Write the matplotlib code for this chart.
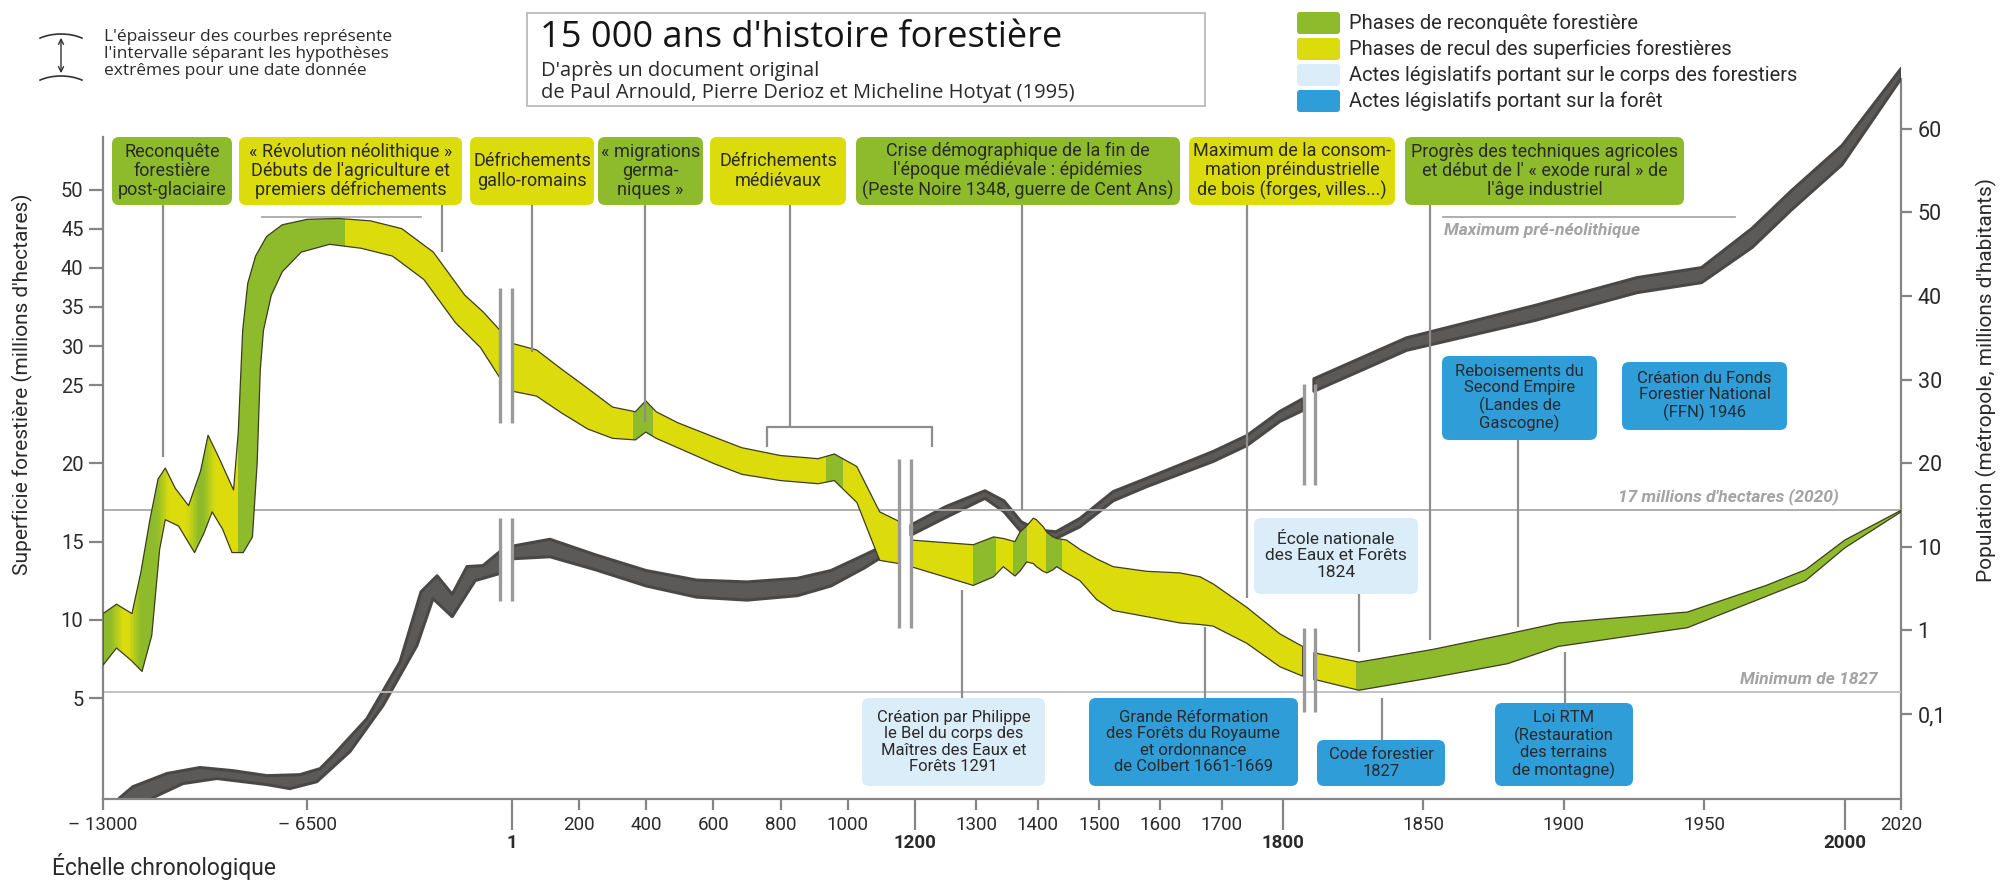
import numpy as np
import matplotlib
matplotlib.use("Agg")
import matplotlib.pyplot as plt
from matplotlib.colors import to_rgb
from matplotlib.patches import FancyBboxPatch, Polygon, Arc, FancyArrowPatch
from matplotlib.lines import Line2D
from matplotlib.ticker import NullLocator

plt.rcParams["font.family"] = ["Roboto", "DejaVu Sans"]

W, H = 2005, 881

# ---------------------------------------------------------------- data
# forest area (millions ha), upper / lower hypothesis, split at the axis breaks
forest_a_up_x = [-13000, -12570, -12080, -11800, -11500, -11250, -11020, -10700, -10280, -9900,
                 -9660, -9300, -8850, -8700, -8560, -8400, -8150, -7800, -7300, -6500, -5500,
                 -4500, -3500, -2500, -1500, -900, -380]
forest_a_up = [10.4, 11.0, 10.4, 13.0, 16.5, 19.0, 19.7, 18.4, 17.3, 19.5, 21.8, 20.3, 18.3,
               22.0, 32.0, 38.0, 41.5, 44.0, 45.5, 46.2, 46.3, 46.0, 45.0, 42.0, 36.5, 34.3, 32.0]
forest_a_lo_x = [-13000, -12570, -12100, -11760, -11450, -11200, -11020, -10600, -10090, -9800,
                 -9530, -9200, -8900, -8540, -8250, -8100, -8000, -7900, -7650, -7300, -6700,
                 -5800, -4800, -3800, -2800, -1800, -1000, -380]
forest_a_lo = [7.1, 8.2, 7.4, 6.7, 9.0, 14.5, 16.4, 16.0, 14.3, 15.5, 16.9, 15.8, 14.3, 14.3,
               15.3, 20.0, 27.0, 32.0, 36.5, 39.5, 42.0, 43.0, 42.5, 41.5, 38.5, 33.0, 29.8, 25.9]

forest_b_x = [5, 74, 150, 226, 300, 368, 399, 430, 494, 600, 685, 800, 912, 960, 1027, 1095, 1152]
forest_b_up = [30.3, 29.5, 27.0, 24.8, 23.6, 23.3, 24.0, 23.3, 22.6, 21.7, 21.0, 20.5, 20.3,
               20.6, 19.8, 16.9, 16.3]
forest_b_lo = [24.6, 24.3, 23.2, 22.2, 21.6, 21.5, 22.0, 21.6, 21.0, 20.0, 19.3, 18.9, 18.7,
               18.9, 17.5, 13.8, 13.6]

forest_c_x = [1188, 1295, 1328, 1344, 1363, 1371, 1382, 1393, 1398, 1409, 1415, 1425, 1431,
              1447, 1469, 1496, 1523, 1578, 1632, 1665, 1686, 1741, 1795, 1807]
forest_c_up = [15.1, 14.8, 15.3, 15.2, 15.0, 15.6, 16.0, 16.5, 16.4, 15.95, 15.6, 15.3, 15.2,
               15.1, 14.5, 13.9, 13.4, 13.1, 13.0, 12.75, 12.3, 10.8, 9.1, 8.3]
forest_c_lo = [13.4, 12.2, 12.75, 13.4, 12.8, 13.1, 13.7, 13.6, 13.4, 13.1, 13.0, 13.2, 13.4,
               13.0, 12.5, 11.3, 10.6, 10.2, 9.8, 9.7, 9.6, 8.5, 7.0, 6.4]

forest_d_x = [1811, 1827, 1853, 1880, 1898, 1917, 1944, 1972, 1986, 2000, 2020]
forest_d_up = [7.9, 7.3, 8.1, 9.1, 9.8, 10.1, 10.5, 12.2, 13.2, 15.1, 17.0]
forest_d_lo = [6.2, 5.5, 6.3, 7.2, 8.3, 8.8, 9.5, 11.5, 12.5, 14.6, 16.9]

# phases of forest recovery (green), the rest is retreat (yellow)
green_phases = [(-13000, -12555), (-12000, -11100), (-10150, -9620), (-8700, -5300),
                (360, 420), (935, 985), (1295, 1332), (1360, 1382), (1413, 1440), (1826, 2020)]

# population (millions), upper / lower hypothesis
pop_a_up_x = [-12700, -12460, -12050, -10970, -9920, -8870, -7790, -6740, -6100, -5690, -4610,
              -3560, -2890, -2380, -1900, -1430, -920, -380]
pop_a_up = [0.008, 0.010, 0.0135, 0.0194, 0.0229, 0.0210, 0.0183, 0.0188, 0.0222, 0.0318, 0.088,
            0.42, 2.9, 4.5, 2.7, 5.8, 5.96, 8.8]
pop_a_lo_x = [-11600, -11410, -10460, -9380, -7790, -7060, -6200, -5150, -4100, -3020, -2510,
              -1900, -1170, -380]
pop_a_lo = [0.008, 0.010, 0.0147, 0.0169, 0.0143, 0.0128, 0.0155, 0.0355, 0.126, 0.66, 2.4,
            1.46, 3.94, 4.8]

pop_b_x = [5, 114, 250, 400, 550, 700, 850, 950, 1050, 1100, 1152]
pop_b_up = [10.1, 10.9, 8.0, 5.2, 4.0, 3.8, 4.2, 5.2, 8.0, 10.0, 12.0]
pop_b_lo = [7.2, 7.6, 5.3, 3.4, 2.5, 2.3, 2.6, 3.4, 5.6, 7.5, 10.8]

pop_c_x = [1188, 1250, 1314, 1345, 1373, 1400, 1430, 1469, 1523, 1578, 1686, 1741, 1795, 1807]
pop_c_up = [12.6, 14.8, 16.7, 15.5, 13.0, 12.0, 11.8, 13.4, 16.6, 18.2, 21.4, 23.3, 26.2, 27.7]
pop_c_lo = [11.4, 13.5, 15.8, 14.2, 11.8, 11.0, 11.0, 12.4, 15.5, 17.2, 20.2, 22.1, 25.0, 26.3]

pop_d_x = [1811, 1844, 1890, 1926, 1949, 1967, 1981, 1999, 2020]
pop_d_up = [30.1, 35.0, 38.9, 42.2, 43.4, 48.1, 52.6, 58.0, 67.2]
pop_d_lo = [28.6, 33.5, 37.1, 40.4, 41.6, 45.8, 50.3, 55.7, 66.0]

x_ticks_minor = [-13000, -6500, 200, 400, 600, 800, 1000, 1300, 1400, 1500, 1600, 1700,
                 1850, 1900, 1950, 2020]
x_ticks_major = [1, 1200, 1800, 2000]
forest_ticks = [5, 10, 15, 20, 25, 30, 35, 40, 45, 50]
pop_ticks = [0.1, 1, 10, 20, 30, 40, 50, 60]
pop_tick_labels = ["0,1", "1", "10", "20", "30", "40", "50", "60"]

forest_2020 = 17
forest_min_1827 = 5.4
forest_max_preneo = 46.5

GREEN = "#8dbb2b"
YELLOW = "#dcdc0c"
LIGHT_BLUE = "#dcedfa"
BLUE = "#2f9dd8"
GREY_BAND = "#5c5959"
LINE_GREY = "#8e8e8e"
TXT = "#2a2a2a"


# ---------------------------------------------------------------- scales
# chronological axis: each period has its own stretch
_xk = np.array([-40000, -13000, 1, 1200, 1800, 2020, 5000], float)
_xp = np.array([103 - 27000 * 409 / 13001, 103, 512, 915, 1283, 1901, 1901 + 2980 * 618 / 220])


def x_fwd(v):
    return np.interp(np.asarray(v, float), _xk, _xp)


def x_inv(u):
    return np.interp(np.asarray(u, float), _xp, _xk)


# forest axis: 5-25 stretched twice as much as 25-50
def f_fwd(v):
    v = np.asarray(v, float)
    return np.where(v <= 25, v, 25 + (v - 25) / 2)


def f_inv(u):
    u = np.asarray(u, float)
    return np.where(u <= 25, u, 25 + (u - 25) * 2)


# population axis: log up to 10, then linear
def p_fwd(p):
    p = np.asarray(p, float)
    with np.errstate(all="ignore"):
        lg = np.log10(np.maximum(p, 1e-9)) + 2
    return np.where(p <= 10, lg, 3 + (p - 10) / 10)


def p_inv(g):
    g = np.asarray(g, float)
    with np.errstate(all="ignore"):
        ex = 10 ** (np.minimum(g, 3) - 2)
    return np.where(g <= 3, ex, 10 + (g - 3) * 10)


def fx(x):
    return x / W


def fy(y):
    return 1 - y / H


def mix(c1, c2, t):
    a, b = np.array(to_rgb(c1)), np.array(to_rgb(c2))
    return tuple(a + (b - a) * t)


# ---------------------------------------------------------------- figure
fig = plt.figure(figsize=(W / 100, H / 100), dpi=100)
fig.patch.set_facecolor("white")
ax = fig.add_axes([fx(103), fy(799), (1901 - 103) / W, (799 - 55) / H])
ax2 = ax.twinx()

ax.set_xscale("function", functions=(x_fwd, x_inv))
ax.set_xlim(-13000, 2020)
ax.set_yscale("function", functions=(f_fwd, f_inv))
ax.set_ylim(-1.45, 67.2)
ax2.set_yscale("function", functions=(p_fwd, p_inv))
ax2.set_ylim(10 ** (-2.017), 68.83)

ax.set_zorder(ax2.get_zorder() + 1)
ax.patch.set_visible(False)

for a in (ax, ax2):
    for s in a.spines.values():
        s.set_visible(False)
ax.spines["left"].set_visible(True)
ax.spines["bottom"].set_visible(True)
ax2.spines["right"].set_visible(True)
for s in (ax.spines["left"], ax.spines["bottom"], ax2.spines["right"]):
    s.set_color("#858585")
    s.set_linewidth(1.6)
ax.spines["left"].set_bounds(-1.45, 56.7)
ax2.spines["right"].set_bounds(10 ** (-2.017), 66)

# ticks
ax.set_xticks(x_ticks_major, labels=[str(v) for v in x_ticks_major], fontweight="bold")
ax.set_xticks(x_ticks_minor, labels=[("– %d" % -v) if v < 0 else str(v) for v in x_ticks_minor],
              minor=True)
ax.tick_params(axis="x", which="major", length=22, width=1.6, color="#858585", pad=3,
               labelsize=13.5, labelcolor=TXT)
ax.tick_params(axis="x", which="minor", length=8, width=1.6, color="#858585", pad=4,
               labelsize=13.5, labelcolor=TXT)
ax.set_yticks(forest_ticks, labels=[str(v) for v in forest_ticks])
ax.tick_params(axis="y", length=10, width=1.6, color="#858585", pad=4, labelsize=14.5,
               labelcolor=TXT)
ax2.set_yticks(pop_ticks, labels=pop_tick_labels)
ax2.yaxis.set_minor_locator(NullLocator())
ax.yaxis.set_minor_locator(NullLocator())
ax2.tick_params(axis="y", length=8, width=1.6, color="#858585", pad=4, labelsize=15.5,
                labelcolor=TXT)

# reference lines
ax.axhline(forest_2020, color="#a9a9a9", lw=1.3, zorder=1)
ax.axhline(forest_min_1827, color="#bdbdbd", lw=1.3, zorder=1)
ax.plot([-7940, -2890], [forest_max_preneo] * 2, color="#a9a9a9", lw=1.3, zorder=1)
ax.plot([1857, 1961], [forest_max_preneo] * 2, color="#a9a9a9", lw=1.3, zorder=1)


# ---------------------------------------------------------------- bands
def band(axis, xs_up, up, xs_lo, lo, **kw):
    verts = list(zip(xs_up, up)) + list(zip(xs_lo[::-1], lo[::-1]))
    poly = Polygon(verts, closed=True, joinstyle="round", **kw)
    axis.add_patch(poly)
    return poly


pop_segments = [(pop_a_up_x, pop_a_up, pop_a_lo_x, pop_a_lo),
                (pop_b_x, pop_b_up, pop_b_x, pop_b_lo),
                (pop_c_x, pop_c_up, pop_c_x, pop_c_lo),
                (pop_d_x, pop_d_up, pop_d_x, pop_d_lo)]
for xu, u, xl, l in pop_segments:
    band(ax2, xu, u, xl, l, fc=GREY_BAND, ec="#4a4747", lw=2.2, zorder=3)

# soft colour transitions between the prehistoric phases
soft_edges = []
for g0, g1 in green_phases:
    if g1 < -6000:
        if g0 > -13000:
            soft_edges.append((g0, YELLOW, GREEN))
        soft_edges.append((g1, GREEN, YELLOW))

forest_segments = [(forest_a_up_x, forest_a_up, forest_a_lo_x, forest_a_lo),
                   (forest_b_x, forest_b_up, forest_b_x, forest_b_lo),
                   (forest_c_x, forest_c_up, forest_c_x, forest_c_lo),
                   (forest_d_x, forest_d_up, forest_d_x, forest_d_lo)]
for xu, u, xl, l in forest_segments:
    poly = band(ax, xu, u, xl, l, fill=False, ec="#3d3d22", lw=0.9, zorder=4)
    x0, x1 = min(xu[0], xl[0]), max(xu[-1], xl[-1])
    sp = ax.axvspan(x0, x1, color=YELLOW, lw=0, zorder=3)
    sp.set_clip_path(poly)
    for g0, g1 in green_phases:
        if g1 > x0 and g0 < x1:
            sp = ax.axvspan(max(g0, x0), min(g1, x1), color=GREEN, lw=0, zorder=3)
            sp.set_clip_path(poly)
    for e, cl, cr in soft_edges:
        if x0 < e < x1:
            n = 8
            for k in range(n):
                a0 = e - 200 + k * 400 / n
                sp = ax.axvspan(a0, a0 + 400 / n + 5, color=mix(cl, cr, (k + 0.5) / n),
                                lw=0, zorder=3.1)
                sp.set_clip_path(poly)

# axis-break marks (double bars)
breaks = [((-380, 1), (22.6, 37.4)), ((-380, 1), (11.2, 16.5)),
          ((1152, 1188), (9.5, 20.3)),
          ((1807.5, 1811.5), (18.6, 25.1)), ((1807.5, 1811.5), (4.1, 9.5))]
for (xa, xb), (ya, yb) in breaks:
    for xv in (xa, xb):
        ax.plot([xv, xv], [ya, yb], color="#9a9a9a", lw=2.4, zorder=6, solid_capstyle="butt")


# ---------------------------------------------------------------- annotations
def line(x0, y0, x1, y1, color=LINE_GREY, lw=1.6):
    fig.add_artist(Line2D([fx(x0), fx(x1)], [fy(y0), fy(y1)], color=color, lw=lw,
                          solid_capstyle="butt", zorder=4))


def box(x0, y0, x1, y1, fc, text, fs=13, tc=TXT):
    fig.add_artist(FancyBboxPatch((x0 / 100, (H - y1) / 100), (x1 - x0) / 100, (y1 - y0) / 100,
                                  boxstyle="round,pad=0,rounding_size=0.07",
                                  transform=fig.dpi_scale_trans, fc=fc, ec="none", zorder=5))
    fig.text(fx((x0 + x1) / 2), fy((y0 + y1) / 2), text, ha="center", va="center",
             fontsize=fs, color=tc, linespacing=1.1, zorder=6)


# top boxes
top_boxes = [
    (112, 232, GREEN, "Reconquête\nforestière\npost-glaciaire"),
    (239, 462, YELLOW, "« Révolution néolithique »\nDébuts de l'agriculture et\npremiers défrichements"),
    (470, 594, YELLOW, "Défrichements\ngallo-romains"),
    (598, 703, GREEN, "« migrations\ngerma-\nniques »"),
    (710, 846, YELLOW, "Défrichements\nmédiévaux"),
    (856, 1180, GREEN, "Crise démographique de la fin de\nl'époque médiévale : épidémies\n"
                       "(Peste Noire 1348, guerre de Cent Ans)"),
    (1189, 1395, YELLOW, "Maximum de la consom-\nmation préindustrielle\nde bois (forges, villes...)"),
    (1405, 1684, GREEN, "Progrès des techniques agricoles\net début de l' « exode rural » de\n"
                        "l'âge industriel"),
]
for x0, x1, c, t in top_boxes:
    box(x0, 137, x1, 205, c, t)

for x, yb in [(163, 457), (442, 252), (532, 352), (645, 422), (1022, 510), (1247, 598),
              (1430, 640)]:
    line(x, 205, x, yb)
# bracket for medieval clearings
line(790, 205, 790, 427)
line(767, 427, 932, 427)
line(767, 426, 767, 447)
line(932, 426, 932, 447)

# bottom boxes
box(862, 698, 1045, 786, LIGHT_BLUE,
    "Création par Philippe\nle Bel du corps des\nMaîtres des Eaux et\nForêts 1291", fs=12)
box(1089, 698, 1298, 786, BLUE,
    "Grande Réformation\ndes Forêts du Royaume\net ordonnance\nde Colbert 1661-1669", fs=12)
box(1317, 740, 1445, 786, BLUE, "Code forestier\n1827", fs=12)
box(1495, 703, 1633, 786, BLUE, "Loi RTM\n(Restauration\ndes terrains\nde montagne)", fs=12)
box(1254, 518, 1418, 594, LIGHT_BLUE, "École nationale\ndes Eaux et Forêts\n1824", fs=12.5)
box(1442, 356, 1597, 440, BLUE, "Reboisements du\nSecond Empire\n(Landes de\nGascogne)", fs=12)
box(1622, 362, 1787, 430, BLUE, "Création du Fonds\nForestier National\n(FFN) 1946", fs=12)

for x, y0, y1 in [(962, 698, 590), (1205, 698, 627), (1382, 740, 698), (1359, 594, 652),
                  (1518, 440, 627), (1565, 703, 652)]:
    line(x, y0, x, y1)

# reference line labels
ref_style = dict(color="#a3a3a3", fontsize=12.5, fontstyle="italic", fontweight="bold",
                 va="center")
fig.text(fx(1839), fy(497), "17 millions d'hectares (2020)", ha="right", **ref_style)
fig.text(fx(1878), fy(679), "Minimum de 1827", ha="right", **ref_style)
fig.text(fx(1444), fy(230), "Maximum pré-néolithique", ha="left", **ref_style)

# axis titles
fig.text(fx(22), fy(384), "Superficie forestière (millions d'hectares)", rotation=90,
         ha="center", va="center", fontsize=15, color=TXT)
fig.text(fx(1986), fy(380), "Population (métropole, millions d'habitants)", rotation=90,
         ha="center", va="center", fontsize=15, color=TXT)
fig.text(fx(52), fy(866), "Échelle chronologique", ha="left", va="center", fontsize=16.5,
         color=TXT)

# title block
fig.add_artist(FancyBboxPatch((527 / 100, (H - 106) / 100), (1205 - 527) / 100, 93 / 100,
                              boxstyle="square,pad=0", transform=fig.dpi_scale_trans,
                              fc="white", ec="#b5b5b5", lw=1.2, zorder=5))
fig.text(fx(540), fy(38), "15 000 ans d'histoire forestière", ha="left", va="center",
         fontsize=26, fontweight="medium", color="#151515",
         family=["Open Sans", "DejaVu Sans"], zorder=6)
fig.text(fx(541), fy(71), "D'après un document original", ha="left", va="center",
         fontsize=14.5, color="#2a2a2a", family=["Open Sans", "DejaVu Sans"], zorder=6)
fig.text(fx(541), fy(93), "de Paul Arnould, Pierre Derioz et Micheline Hotyat (1995)",
         ha="left", va="center", fontsize=14.5, color="#2a2a2a",
         family=["Open Sans", "DejaVu Sans"], zorder=6)

# legend
legend_items = [(GREEN, "Phases de reconquête forestière"),
                (YELLOW, "Phases de recul des superficies forestières"),
                (LIGHT_BLUE, "Actes législatifs portant sur le corps des forestiers"),
                (BLUE, "Actes législatifs portant sur la forêt")]
for i, (c, t) in enumerate(legend_items):
    yc = 23 + i * 26
    fig.add_artist(FancyBboxPatch((1297 / 100, (H - yc - 11) / 100), 0.43, 0.22,
                                  boxstyle="round,pad=0,rounding_size=0.03",
                                  transform=fig.dpi_scale_trans, fc=c, ec="none"))
    fig.text(fx(1349), fy(yc), t, ha="left", va="center", fontsize=14.5, color=TXT)

# thickness note
fig.text(fx(104), fy(54), "L'épaisseur des courbes représente\nl'intervalle séparant les hypothèses\n"
         "extrêmes pour une date donnée", ha="left", va="center", fontsize=12.5,
         color=TXT, linespacing=1.12, family=["Open Sans", "DejaVu Sans"])
fig.add_artist(Arc((61 / 100, (H - 52) / 100), 0.66, 0.36, theta1=32, theta2=148,
                   transform=fig.dpi_scale_trans, color="#333", lw=1.2))
fig.add_artist(Arc((61 / 100, (H - 94) / 100), 0.66, 0.36, theta1=32, theta2=148,
                   transform=fig.dpi_scale_trans, color="#333", lw=1.2))
fig.add_artist(FancyArrowPatch((fx(61), fy(35)), (fx(61), fy(76)), transform=fig.transFigure,
                               arrowstyle="<->", mutation_scale=9, color="#333", lw=1.0))

fig.savefig("out.png", dpi=100)
